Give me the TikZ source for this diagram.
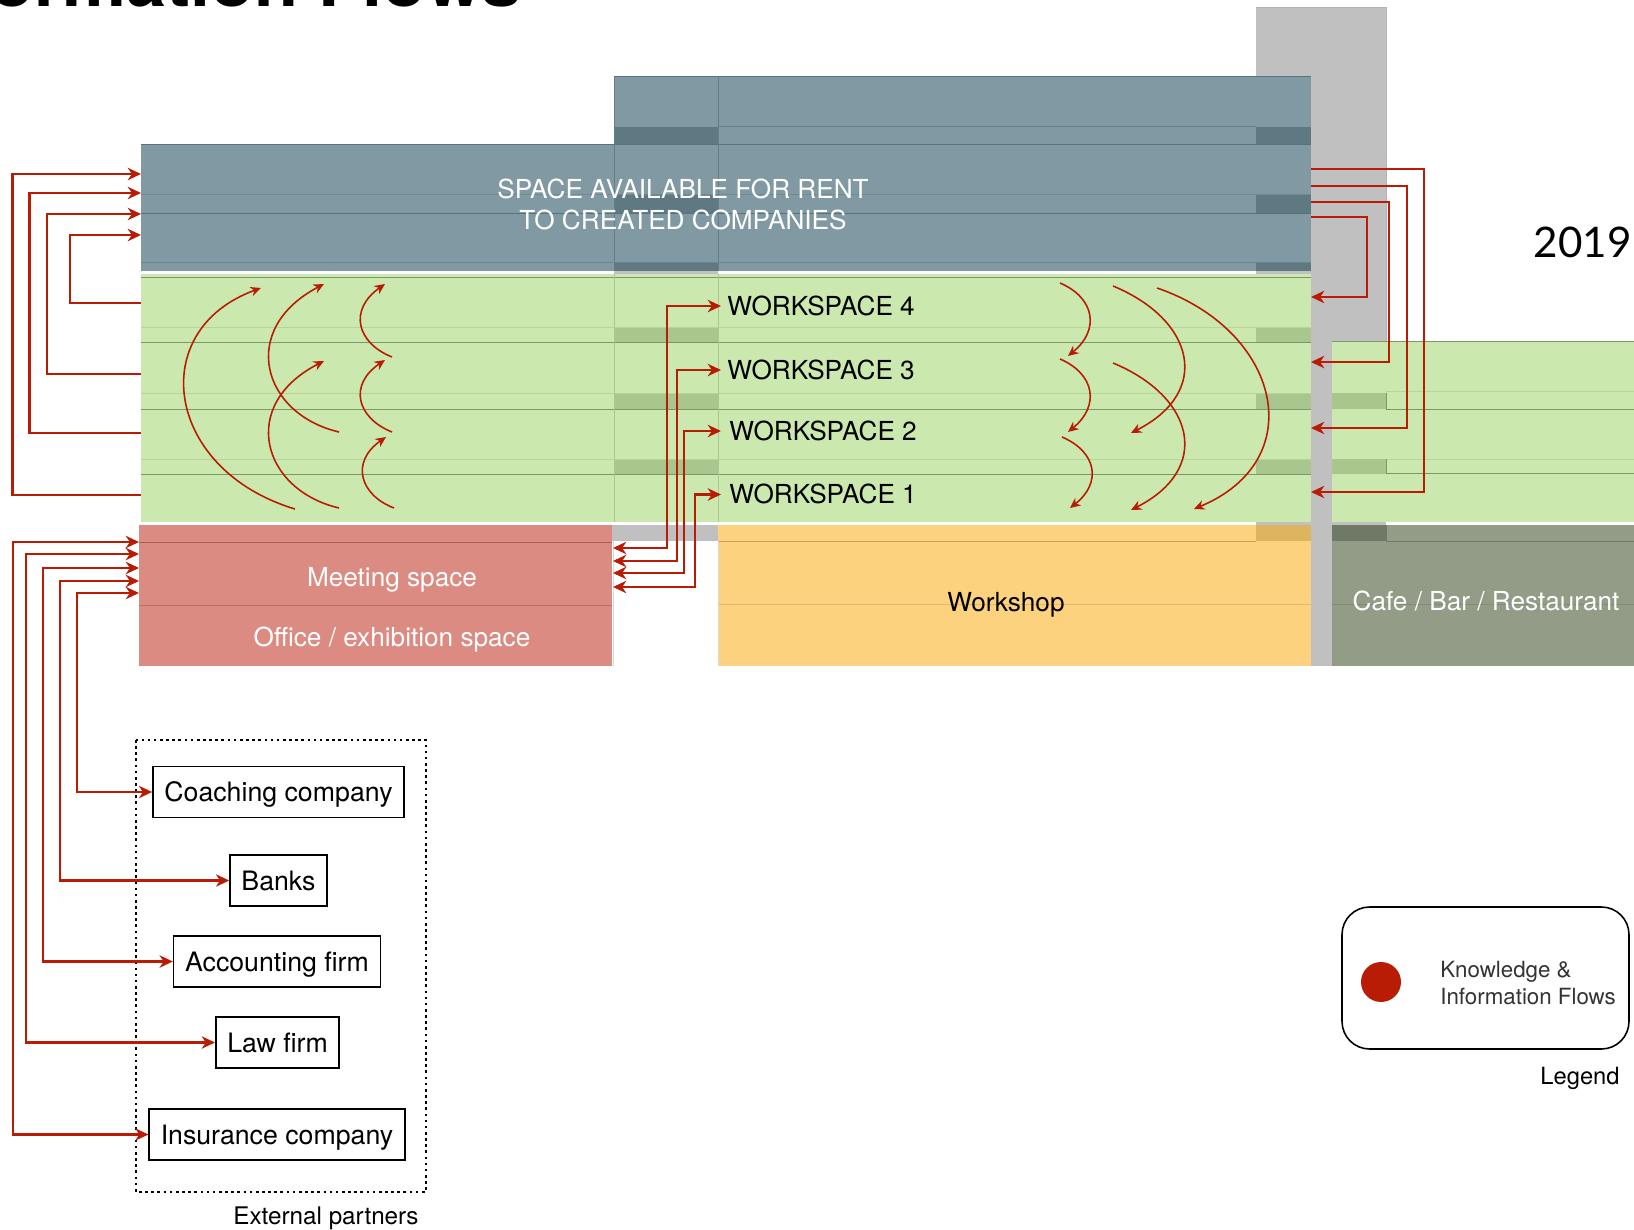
\documentclass[tikz,border=0pt]{standalone}
\usepackage{fontspec}
\setmainfont{TeX Gyre Heros}
\newfontfamily\yearfont{Lato}
\usetikzlibrary{arrows.meta}

\definecolor{rentblue}{RGB}{128,153,162}
\definecolor{rentdark}{RGB}{95,121,130}
\definecolor{rentline}{RGB}{88,114,123}
\definecolor{coregray}{RGB}{192,192,192}
\definecolor{wsgreen}{RGB}{203,232,174}
\definecolor{wsdark}{RGB}{168,198,142}
\definecolor{wsline}{RGB}{125,152,104}
\definecolor{meetred}{RGB}{219,139,129}
\definecolor{meetline}{RGB}{170,92,82}
\definecolor{shopyellow}{RGB}{253,210,126}
\definecolor{shopdark}{RGB}{223,180,95}
\definecolor{shopline}{RGB}{200,158,84}
\definecolor{cafegreen}{RGB}{146,156,134}
\definecolor{cafedark}{RGB}{111,122,102}
\definecolor{flowred}{RGB}{184,28,4}

\tikzset{
  infoflow/.style={draw=flowred, line width=1.3pt, -{Stealth[length=7.5pt,width=7pt,inset=2.3pt]}},
  infoflowboth/.style={infoflow, {Stealth[length=7.5pt,width=7pt,inset=2.3pt]}-{Stealth[length=7.5pt,width=7pt,inset=2.3pt]}},
  swirlarrow/.style={draw=flowred, line width=0.9pt, -{Stealth[length=6pt,width=5.5pt,inset=2pt]}},
  planlabel/.style={font=\fontsize{14.9}{17.6}\selectfont, inner sep=0pt, align=center},
  caplabel/.style={planlabel, text height=10.7pt, text depth=0pt},
  partnerbox/.style={draw=black, line width=0.9pt, minimum height=1.02cm, inner xsep=0.23cm, text height=10.9pt, text depth=0pt, font=\fontsize{15.2}{17}\selectfont},
}

\begin{document}
\begin{tikzpicture}[x=0.02cm, y=-0.02cm]
\useasboundingbox (0,0) rectangle (1634,1230);

% title, cut off at the top of the page
\node[anchor=base east, inner sep=0pt, font=\fontsize{41}{41}\selectfont\bfseries] (title) at (522,7) {ormation Flows};

% core column
\fill[coregray] (1256,7) rectangle (1386,666);
\draw[black!30, line width=0.4pt] (1256,7) -- (1386,7) -- (1386,341);

% rental floors
\fill[rentblue] (141,145) rectangle (614,271);
\fill[rentblue] (614,76) rectangle (1311,271);
\fill[rentdark] (614,127) rectangle (718,144);
\fill[rentdark] (1256,127) rectangle (1311,144);
\fill[rentdark] (614,195) rectangle (718,213);
\fill[rentdark] (1256,195) rectangle (1311,213);
\fill[rentdark] (614,263) rectangle (718,271);
\fill[rentdark] (1256,263) rectangle (1311,271);
\fill[coregray] (614,271) rectangle (718,274);
\draw[rentline] (614,76) -- (1311,76);
\draw[rentline!70!rentblue] (718,126) -- (1256,126);
\draw[rentline] (141,144.5) -- (1311,144.5);
\draw[rentline!40!rentblue] (141,194) -- (1311,194);
\draw[rentline] (141,213) -- (1311,213);
\draw[rentline!50!rentblue] (141,262) -- (1311,262);
\draw[rentline!70!rentblue] (614,76) -- (614,271);
\draw[rentline!70!rentblue] (718,76) -- (718,271);

% workspace floors
\fill[wsgreen] (141,274) rectangle (1311,522);
\fill[wsgreen] (1332,341) rectangle (1634,522);
\fill[wsdark] (614,328) rectangle (718,342);
\fill[wsdark] (614,393) rectangle (718,409);
\fill[wsdark] (614,459) rectangle (718,474);
\fill[wsdark] (1256,328) rectangle (1311,342);
\fill[wsdark] (1256,393) rectangle (1311,409);
\fill[wsdark] (1256,459) rectangle (1311,474);
\fill[wsdark] (1332,393) rectangle (1386,409);
\fill[wsdark] (1332,459) rectangle (1386,474);
\draw[wsline] (141,277) -- (1311,277);
\draw[wsline!25!wsgreen] (141,327) -- (1311,327);
\draw[wsline] (141,342) -- (1311,342);
\draw[wsline!25!wsgreen] (141,393) -- (1311,393);
\draw[wsline] (141,409) -- (1311,409);
\draw[wsline!25!wsgreen] (141,459) -- (1311,459);
\draw[wsline] (141,474) -- (1311,474);
\draw[wsline!40!wsgreen] (614,274) -- (614,522);
\draw[wsline!40!wsgreen] (718,274) -- (718,522);
\draw[wsline] (1332,341) -- (1634,341);
\draw[wsline!25!wsgreen] (1386,391) -- (1634,391);
\draw[wsline] (1386,393) -- (1386,409) -- (1634,409);
\draw[wsline!25!wsgreen] (1386,459) -- (1634,459);
\draw[wsline] (1386,459) -- (1386,473) -- (1634,473);

% ground floor
\fill[meetred] (139,525) rectangle (612,666);
\draw[meetline] (139,542) -- (612,542);
\draw[meetline!60!meetred] (139,605) -- (612,605);
\fill[coregray] (612,525) rectangle (718,541);
\draw[black!15] (613,541) -- (613,666);
\fill[shopyellow] (718,525) rectangle (1311,666);
\fill[shopdark] (1256,525) rectangle (1311,541);
\draw[shopline] (718,541) -- (1256,541);
\draw[shopline!50!shopyellow] (718,604) -- (1311,604);
\draw[black!15] (718,541) -- (718,666);
\fill[cafegreen] (1332,525) rectangle (1634,666);
\fill[cafedark] (1332,525) rectangle (1386,541);
\draw[cafedark] (1386,525) -- (1386,541) -- (1634,541);
\draw[cafedark!50!cafegreen] (1332,604) -- (1634,604);

% labels
\node[planlabel, text=white] (rent) at (683,204) {SPACE AVAILABLE FOR RENT\\TO CREATED COMPANIES};
\node[caplabel, anchor=west, inner xsep=0.12cm] (ws4) at (721,306) {WORKSPACE 4};
\node[caplabel, anchor=west, inner xsep=0.12cm] (ws3) at (721,370) {WORKSPACE 3};
\node[caplabel, anchor=west, inner xsep=0.16cm] (ws2) at (721,431) {WORKSPACE 2};
\node[caplabel, anchor=west, inner xsep=0.16cm] (ws1) at (721,494.5) {WORKSPACE 1};
\node[caplabel, text=white] (meet) at (392,577.5) {Meeting space};
\node[caplabel, text=white] (office) at (392,637) {Office / exhibition space};
\node[caplabel] (shop) at (1006,602.5) {Workshop};
\node[caplabel, text=white] (cafe) at (1486,601) {Cafe / Bar / Restaurant};
\node[anchor=east, inner sep=0pt, font=\yearfont\fontsize{24}{24}\selectfont] (year) at (1632,242) {2019};

% ports on the floors
\coordinate (rentw1) at (141,174);
\coordinate (rentw2) at (141,193);
\coordinate (rentw3) at (141,214);
\coordinate (rentw4) at (141,235);
\coordinate (wsw1) at (141,495);
\coordinate (wsw2) at (141,433);
\coordinate (wsw3) at (141,374);
\coordinate (wsw4) at (141,303);
\coordinate (rente1) at (1311,169);
\coordinate (rente2) at (1311,186);
\coordinate (rente3) at (1311,202);
\coordinate (rente4) at (1311,217);
\coordinate (wse1) at (1311,492);
\coordinate (wse2) at (1311,428);
\coordinate (wse3) at (1311,362);
\coordinate (wse4) at (1311,297);
\coordinate (meete4) at (613,548);
\coordinate (meete3) at (613,561);
\coordinate (meete2) at (613,573);
\coordinate (meete1) at (613,587);
\coordinate (meetw1) at (139,542);
\coordinate (meetw2) at (139,554);
\coordinate (meetw3) at (139,568);
\coordinate (meetw4) at (139,581);
\coordinate (meetw5) at (139,593);

% external partners
\draw[line width=0.8pt, dash pattern=on 1.5pt off 2pt] (136,740) rectangle (426,1192);
\node[partnerbox] (coach) at (278.5,792) {Coaching company};
\node[partnerbox] (banks) at (278.5,880.5) {Banks};
\node[partnerbox] (account) at (277,961.5) {Accounting firm};
\node[partnerbox] (law) at (277.5,1042.5) {Law firm};
\node[partnerbox] (insure) at (277,1134.5) {Insurance company};
\node[inner sep=0pt, text height=9.9pt, text depth=0pt, font=\fontsize{13.8}{16}\selectfont] (partners) at (326,1215.5) {External partners};

% flows between the workspaces and the rental floor
\draw[infoflow] (wsw4) -- ++(-71,0) |- (rentw4);
\draw[infoflow] (wsw3) -- ++(-94,0) |- (rentw3);
\draw[infoflow] (wsw2) -- ++(-111.5,0) |- (rentw2);
\draw[infoflow] (wsw1) -- ++(-128.5,0) |- (rentw1);
\draw[infoflow] (rente4) -- ++(56,0) |- (wse4);
\draw[infoflow] (rente3) -- ++(78,0) |- (wse3);
\draw[infoflow] (rente2) -- ++(96,0) |- (wse2);
\draw[infoflow] (rente1) -- ++(113,0) |- (wse1);

% flows between the workspaces and the meeting space
\draw[infoflowboth] (ws4.west) -- ++(-54,0) |- (meete4);
\draw[infoflowboth] (ws3.west) -- ++(-44,0) |- (meete3);
\draw[infoflowboth] (ws2.west) -- ++(-37,0) |- (meete2);
\draw[infoflowboth] (ws1.west) -- ++(-26,0) |- (meete1);

% flows between the meeting space and the partners
\draw[infoflowboth] (meetw1) -- ++(-126.3,0) |- (insure.west);
\draw[infoflowboth] (meetw2) -- ++(-113,0) |- (law.west);
\draw[infoflowboth] (meetw3) -- ++(-96.3,0) |- (account.west);
\draw[infoflowboth] (meetw4) -- ++(-79,0) |- (banks.west);
\draw[infoflowboth] (meetw5) -- ++(-62,0) |- (coach.west);

% flows between the workspaces, left side going up
\draw[swirlarrow] (295,509) .. controls (165,470) and (145,330) .. (261,288);
\draw[swirlarrow] (339,508) .. controls (262,490) and (238,405) .. (324,361);
\draw[swirlarrow] (339,432) .. controls (262,414) and (238,329) .. (324,284);
\draw[swirlarrow] (394,508) .. controls (360,495) and (350,462) .. (386,437);
\draw[swirlarrow] (392,432) .. controls (357,418) and (348,385) .. (385,360);
\draw[swirlarrow] (392,357) .. controls (357,343) and (348,310) .. (385,284);

% right side going down
\draw[swirlarrow] (1060,283) .. controls (1095,298) and (1100,330) .. (1068,356);
\draw[swirlarrow] (1060,359) .. controls (1095,374) and (1100,406) .. (1068,432);
\draw[swirlarrow] (1062,437) .. controls (1097,452) and (1102,483) .. (1070,508);
\draw[swirlarrow] (1113,286) .. controls (1195,320) and (1212,392) .. (1131,433);
\draw[swirlarrow] (1113,363) .. controls (1195,397) and (1212,469) .. (1131,510);
\draw[swirlarrow] (1157,288) .. controls (1280,330) and (1312,460) .. (1194,509);

% legend
\node[draw, line width=0.9pt, rounded corners=0.55cm, minimum width=5.74cm, minimum height=2.84cm] (legend) at (1485.5,978) {};
\node[circle, fill=flowred, minimum size=0.8cm, inner sep=0pt] (legenddot) at (1381,982) {};
\node[anchor=west, align=left, inner sep=0pt, text=black!80, font=\fontsize{12.7}{15.4}\selectfont] (legendtext) at (1440,983) {Knowledge \&\\Information Flows};
\node[inner sep=0pt, text height=9.7pt, text depth=0pt, font=\fontsize{13.5}{16}\selectfont] (legendtitle) at (1580,1075.5) {Legend};

\end{tikzpicture}
\end{document}
